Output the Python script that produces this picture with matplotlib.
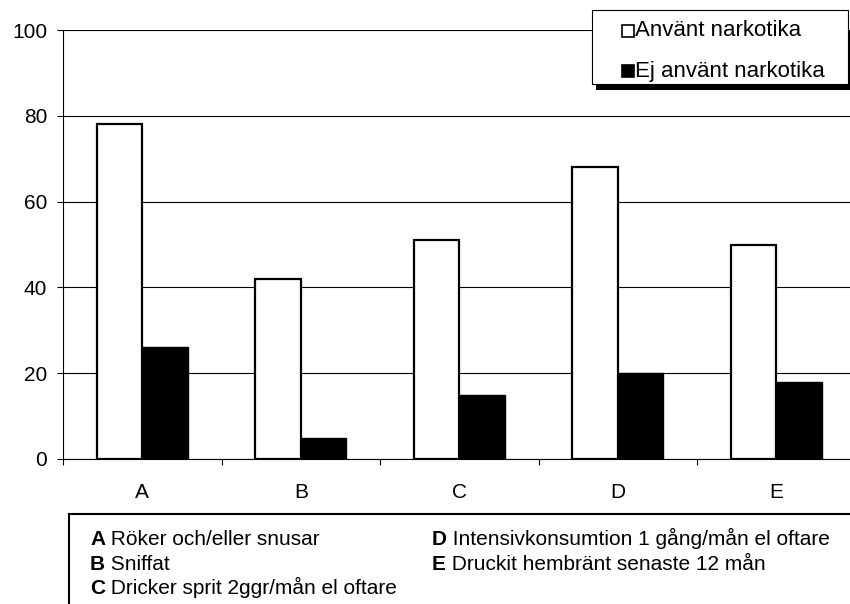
import matplotlib.pyplot as plt
from matplotlib.patches import Rectangle
from matplotlib.lines import Line2D
import numpy as np

plt.rcParams['font.family'] = ['Liberation Sans', 'DejaVu Sans']

categories = ["A", "B", "C", "D", "E"]
anvant = [78, 42, 51, 68, 50]
ej_anvant = [26, 5, 15, 20, 18]
series_labels = ["Använt narkotika", "Ej använt narkotika"]
y_ticks = [0, 20, 40, 60, 80, 100]

notes_left = [("A", "Röker och/eller snusar"),
              ("B", "Sniffat"),
              ("C", "Dricker sprit 2ggr/mån el oftare")]
notes_right = [("D", "Intensivkonsumtion 1 gång/mån el oftare"),
               ("E", "Druckit hembränt senaste 12 mån")]

W, H = 850, 604
fig = plt.figure(figsize=(W / 100, H / 100), dpi=100)

# axes placed in pixel terms, right side runs a little past the image edge
ax = fig.add_axes([63 / W, (H - 459) / H, 792.5 / W, 429 / H])

x = np.arange(len(categories))
w = 0.287
ax.bar(x - w / 2, anvant, w, color='white', edgecolor='black', linewidth=1.6, zorder=3)
ax.bar(x + w / 2, ej_anvant, w, color='black', edgecolor='black', linewidth=1.0, zorder=3)

ax.set_xlim(-0.5, len(categories) - 0.5)
ax.set_ylim(0, 100)
ax.set_yticks(y_ticks)
ax.set_xticks(x)
ax.set_xticklabels(categories)
ax.set_xticks(np.arange(len(categories) + 1) - 0.5, minor=True)

ax.tick_params(axis='y', direction='out', length=4.3, width=0.8, pad=7, labelsize=15)
ax.tick_params(axis='x', which='major', length=0, pad=17, labelsize=15)
ax.tick_params(axis='x', which='minor', direction='out', length=4.3, width=0.8)

ax.yaxis.grid(True, color='black', linewidth=0.8)
ax.set_axisbelow(True)
for s in ['top', 'right']:
    ax.spines[s].set_visible(False)
for s in ['left', 'bottom']:
    ax.spines[s].set_linewidth(0.8)


def px(xp, yp):
    return xp / W, (H - yp) / H


# legend box with black shadow at the bottom
sx, sy = px(596, 90)
fig.patches.append(Rectangle((sx, sy), 300 / W, 60 / H, transform=fig.transFigure,
                             facecolor='black', edgecolor='none', zorder=5))
bx, by = px(592, 84)
fig.patches.append(Rectangle((bx, by), 256 / W, 74 / H, transform=fig.transFigure,
                             facecolor='white', edgecolor='black', linewidth=0.8, zorder=6))

for i, (lab, fc) in enumerate(zip(series_labels, ['white', 'black'])):
    yc = 31 + i * 40
    kx, ky = px(622, yc + 6)
    fig.patches.append(Rectangle((kx, ky), 12 / W, 12 / H, transform=fig.transFigure,
                                 facecolor=fc, edgecolor='black', linewidth=1.2, zorder=7))
    tx, ty = px(635, yc)
    fig.text(tx, ty, lab, fontsize=16, va='center', ha='left', zorder=8)

# notes box below chart
fig.add_artist(Line2D([69 / W, 1], [(H - 514) / H] * 2, color='black', linewidth=1.5))
fig.add_artist(Line2D([69 / W] * 2, [0, (H - 514) / H], color='black', linewidth=1.5))


def note(xp, yp, letter, text):
    t1 = fig.text(*px(xp, yp), letter, fontsize=15, fontweight='bold', va='bottom', ha='left')
    fig.add_artist(plt.Annotation(" " + text, xy=(1, 0), xycoords=t1, fontsize=15,
                                  va='bottom', ha='left'))


for i, (letter, text) in enumerate(notes_left):
    note(90, 549 + i * 24.5, letter, text)
for i, (letter, text) in enumerate(notes_right):
    note(432, 549 + i * 24.5, letter, text)

fig.savefig('out.png', dpi=100)
